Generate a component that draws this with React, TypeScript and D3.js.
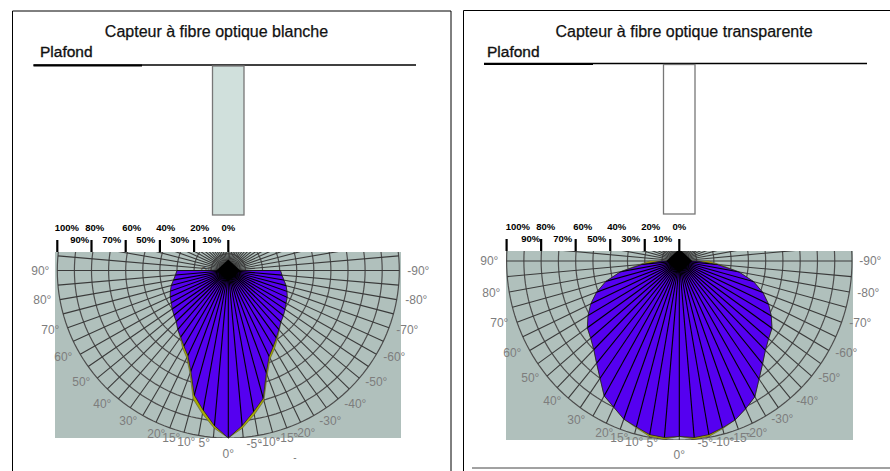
import React from "react";
import * as d3 from "d3";

// ---------- data (relative intensity, 1 = 100 %) ----------
const angles = [0, 5, 10, 15, 20, 25, 30, 35, 40, 45, 50, 55, 60, 65, 70, 75, 80, 85, 90];

const whiteMainPos = [1, 0.93, 0.846, 0.77, 0.64, 0.56, 0.52, 0.485, 0.46, 0.43, 0.415, 0.4, 0.385, 0.375, 0.36, 0.345, 0.325, 0.31, 0.3];
const whiteMainNeg = [1, 0.93, 0.855, 0.79, 0.65, 0.565, 0.525, 0.49, 0.46, 0.435, 0.42, 0.405, 0.39, 0.38, 0.365, 0.35, 0.33, 0.315, 0.305];
const whiteAltPos = [1, 0.945, 0.87, 0.795, 0.655, 0.575, 0.535, 0.49, 0.46, 0.43, 0.415, 0.4, 0.385, 0.375, 0.36, 0.345, 0.325, 0.31, 0.3];
const whiteAltNeg = [1, 0.945, 0.875, 0.805, 0.665, 0.58, 0.54, 0.5, 0.465, 0.435, 0.42, 0.405, 0.39, 0.38, 0.365, 0.35, 0.33, 0.315, 0.305];

const clearMainPos = [0.98, 0.99, 0.985, 0.96, 0.94, 0.9, 0.87, 0.8, 0.745, 0.7, 0.67, 0.65, 0.61, 0.565, 0.51, 0.44, 0.345, 0.215, 0.1];
const clearMainNeg = [0.98, 0.99, 0.985, 0.965, 0.945, 0.91, 0.875, 0.805, 0.75, 0.705, 0.675, 0.655, 0.615, 0.57, 0.515, 0.445, 0.35, 0.22, 0.1];
const clearAltPos = [0.98, 1, 0.995, 0.965, 0.94, 0.9, 0.87, 0.8, 0.745, 0.7, 0.67, 0.65, 0.61, 0.565, 0.51, 0.44, 0.345, 0.235, 0.17];
const clearAltNeg = [0.98, 1, 0.995, 0.97, 0.945, 0.91, 0.875, 0.805, 0.75, 0.705, 0.675, 0.655, 0.615, 0.57, 0.515, 0.445, 0.35, 0.24, 0.17];

const percentTop = ["100%", "80%", "60%", "40%", "20%", "0%"];
const percentBottom = ["90%", "70%", "50%", "30%", "10%"];
const tickShares = [1, 0.8, 0.6, 0.4, 0.2, 0];
const angleLabels = ["90°", "80°", "70°", "60°", "50°", "40°", "30°", "20°", "15°", "10°", "5°", "0°", "-5°", "-10°", "-15°", "-20°", "-30°", "-40°", "-50°", "-60°", "-70°", "-80°", "-90°"];

// ---------- layout ----------
const leftLabelLayout: [number, number][] = [[-188, 0], [-186, 29], [-178, 59], [-165, 86], [-147, 111], [-126, 133], [-100, 150], [-72, 163], [-57, 167], [-42, 171], [-24, 172], [0, 183], [26, 173], [41, 171], [59, 167], [76, 162], [102, 150], [127, 133], [148, 111], [166, 86], [179, 59], [188, 29], [190, 0]];
const rightLabelLayout: [number, number][] = [[-190, 0], [-188, 32], [-180, 62], [-167, 92], [-149, 117], [-127, 140], [-103, 159], [-75, 172], [-60, 177], [-45, 181], [-27, 182], [0, 194], [26, 182], [44, 181], [61, 177], [77, 172], [103, 158], [128, 140], [150, 117], [167, 92], [181, 62], [189, 32], [191, 0]];
const topLabelOffsets = [-161.5, -133.5, -96.5, -62.5, -28.5, 0];
const bottomLabelOffsets = [-148.5, -116.5, -82.5, -48.5, -16.5];

const FONT = "'Liberation Sans', Arial, sans-serif";
const GRID_SHARES = d3.range(1, 11).map((d) => d / 10);
const RAY_ANGLES = d3.range(-180, 180, 5);
const ARC_ANGLES = d3.range(-180, 181, 2);

interface PanelProps {
  id: string;
  title: string;
  titleX: number;
  titleY: number;
  plafondX: number;
  plafondY: number;
  ceilingY: number;
  ceilingX0: number;
  ceilingX1: number;
  ceilingThickX: number;
  barX0: number;
  barX1: number;
  barY1: number;
  barFill: string;
  cx: number;
  cy: number;
  rx: number;
  ry: number;
  rect: [number, number, number, number];
  tickLen: number;
  mainPos: number[];
  mainNeg: number[];
  altPos: number[];
  altNeg: number[];
  labelLayout: [number, number][];
  diamondW: number;
  diamondH: number;
  centerLabel: boolean;
}

function Panel(p: PanelProps) {
  const sx = d3.scaleLinear().domain([0, 1]).range([0, p.rx]);
  const sy = d3.scaleLinear().domain([0, 1]).range([0, p.ry]);
  const point = (deg: number, v: number): [number, number] => {
    const a = (deg * Math.PI) / 180;
    // 0° points down; positive angles go to the left
    return [p.cx - sx(v) * Math.sin(a), p.cy + sy(v) * Math.cos(a)];
  };
  const line = d3.line<[number, number]>();
  const closed = d3.line<[number, number]>().curve(d3.curveLinearClosed);

  const outline = (pos: number[], neg: number[]) => {
    const pts: [number, number][] = [[p.cx, p.cy]];
    angles.slice().reverse().forEach((deg, i) => pts.push(point(deg, pos[angles.length - 1 - i])));
    angles.slice(1).forEach((deg, i) => pts.push(point(-deg, neg[i + 1])));
    return closed(pts) as string;
  };
  const mainPath = outline(p.mainPos, p.mainNeg);
  const altPath = outline(p.altPos, p.altNeg);
  const arcPaths = GRID_SHARES.map((s) => line(ARC_ANGLES.map((a) => point(a, s))) as string);
  const rays = RAY_ANGLES.map((a) => point(a, 1));
  const [rx0, ry0, rx1, ry1] = p.rect;
  const clipId = `${p.id}-rect`;
  const fillClip = `${p.id}-fill`;

  return (
    <g>
      <defs>
        <clipPath id={clipId}>
          <rect x={rx0} y={ry0} width={rx1 - rx0} height={ry1 - ry0} />
        </clipPath>
        <clipPath id={fillClip}>
          <path d={mainPath} />
        </clipPath>
      </defs>

      <text x={p.titleX} y={p.titleY} textAnchor="middle" fontFamily={FONT} fontSize={16} fill="#111" stroke="#111" strokeWidth={0.25}>{p.title}</text>
      <text x={p.plafondX} y={p.plafondY} fontFamily={FONT} fontSize={15.5} fill="#111" stroke="#111" strokeWidth={0.35}>Plafond</text>

      <line x1={p.ceilingX0} x2={p.ceilingX1} y1={p.ceilingY} y2={p.ceilingY} stroke="#000" strokeWidth={1.4} />
      <line x1={p.ceilingX0} x2={p.ceilingThickX} y1={p.ceilingY + 0.5} y2={p.ceilingY + 0.5} stroke="#000" strokeWidth={2} />

      <rect x={p.barX0} y={p.ceilingY + 1} width={p.barX1 - p.barX0} height={p.barY1 - p.ceilingY - 1} fill={p.barFill} stroke="#777" strokeWidth={1.3} />

      {percentTop.map((t, i) => (
        <text key={t} x={p.cx + topLabelOffsets[i]} y={ry0 - 21.5} textAnchor="middle" fontFamily={FONT} fontWeight="bold" fontSize={9.5} fill="#000">{t}</text>
      ))}
      {percentBottom.map((t, i) => (
        <text key={t} x={p.cx + bottomLabelOffsets[i]} y={ry0 - 9.5} textAnchor="middle" fontFamily={FONT} fontWeight="bold" fontSize={9.5} fill="#000">{t}</text>
      ))}
      {tickShares.map((s) => (
        <line key={s} x1={p.cx - sx(s)} x2={p.cx - sx(s)} y1={ry0 - p.tickLen} y2={ry0} stroke="#000" strokeWidth={2.2} />
      ))}

      <rect x={rx0} y={ry0} width={rx1 - rx0} height={ry1 - ry0} fill="#b0c0bc" />

      {p.centerLabel && (
        <text x={p.cx - 22} y={p.cy + 1} textAnchor="middle" dominantBaseline="central" fontFamily={FONT} fontSize={12} fill="#555">0°</text>
      )}

      <g clipPath={`url(#${clipId})`} fill="none">
        {arcPaths.map((d, i) => (
          <path key={i} d={d} stroke="#4d4d4d" strokeWidth={1.2} />
        ))}
        {rays.map(([x, y], i) => (
          <line key={i} x1={p.cx} y1={p.cy} x2={x} y2={y} stroke="#3a3a3a" strokeWidth={1.1} />
        ))}
      </g>

      <path d={altPath} fill="#a8a800" stroke="#444" strokeWidth={0.5} />
      <path d={mainPath} fill="#5500f0" stroke="#222" strokeWidth={0.8} />

      <g clipPath={`url(#${fillClip})`}>
        {rays.map(([x, y], i) => (
          <line key={i} x1={p.cx} y1={p.cy} x2={x} y2={y} stroke="#000" strokeWidth={1.1} />
        ))}
      </g>

      <g clipPath={`url(#${clipId})`}>
        <path d={closed([[p.cx - p.diamondW, p.cy], [p.cx, p.cy - p.diamondH], [p.cx + p.diamondW, p.cy], [p.cx, p.cy + p.diamondH]]) as string} fill="#000" />
      </g>

      {angleLabels.map((t, i) => (
        <text key={t} x={p.cx + p.labelLayout[i][0]} y={p.cy + p.labelLayout[i][1]} textAnchor="middle" dominantBaseline="central" fontFamily={FONT} fontSize={12} fill="#7d7d7d">{t}</text>
      ))}
    </g>
  );
}

export default function App() {
  return (
    <svg width={890} height={471} viewBox="0 0 890 471" style={{ position: "absolute", left: 0, top: 0, background: "#fff" }}>
      <path d="M12.5 471V11H451V471" fill="none" stroke="#000" strokeWidth={1} />
      <path d="M463.5 471V10.5H890" fill="none" stroke="#000" strokeWidth={1} />
      <line x1={472} x2={890} y1={468} y2={468} stroke="#444" strokeWidth={1} />

      <Panel
        id="white"
        title="Capteur à fibre optique blanche"
        titleX={216.5} titleY={36.5}
        plafondX={40} plafondY={57}
        ceilingY={65} ceilingX0={33.5} ceilingX1={416} ceilingThickX={142}
        barX0={212.5} barX1={244} barY1={215} barFill="#d0e0dc"
        cx={228.3} cy={270.5} rx={171} ry={167.5}
        rect={[55, 252, 401, 438]}
        tickLen={12}
        mainPos={whiteMainPos} mainNeg={whiteMainNeg} altPos={whiteAltPos} altNeg={whiteAltNeg}
        labelLayout={leftLabelLayout}
        diamondW={12} diamondH={11}
        centerLabel={true}
      />
      <Panel
        id="clear"
        title="Capteur à fibre optique transparente"
        titleX={684} titleY={36.5}
        plafondX={487} plafondY={57}
        ceilingY={63.5} ceilingX0={484} ceilingX1={867} ceilingThickX={593}
        barX0={663.5} barX1={695} barY1={214} barFill="#ffffff"
        cx={679.3} cy={261} rx={172.7} ry={179}
        rect={[506, 251, 853, 440]}
        tickLen={12}
        mainPos={clearMainPos} mainNeg={clearMainNeg} altPos={clearAltPos} altNeg={clearAltNeg}
        labelLayout={rightLabelLayout}
        diamondW={13} diamondH={12}
        centerLabel={false}
      />
      <text x={295} y={461} textAnchor="middle" fontFamily={FONT} fontSize={10} fill="#777">-</text>
    </svg>
  );
}
